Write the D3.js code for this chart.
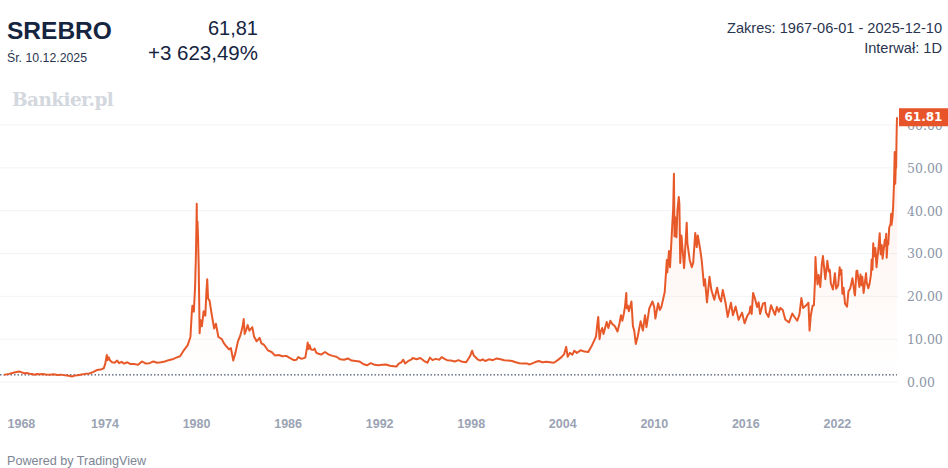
<!DOCTYPE html>
<html>
<head>
<meta charset="utf-8">
<script src="https://cdn.jsdelivr.net/npm/d3@7"></script>
<style>
  body { margin: 0; background: #fff; }
  svg { display: block; font-family: "Liberation Sans", Arial, sans-serif; }
</style>
</head>
<body>
<script>
// 1967 - 1979
const prices1967 = [
  ["1967-06-01", 1.66], ["1967-08-01", 1.78], ["1967-10-01", 1.9], ["1967-12-01", 2.05],
  ["1968-02-01", 2.2], ["1968-04-01", 2.35], ["1968-06-01", 2.45], ["1968-08-01", 2.25],
  ["1968-10-01", 2.05], ["1968-12-01", 2.1], ["1969-02-01", 1.95], ["1969-04-01", 1.85],
  ["1969-06-01", 1.7], ["1969-08-01", 1.85], ["1969-10-01", 1.8], ["1969-12-01", 1.85],
  ["1970-03-01", 1.75], ["1970-06-01", 1.7], ["1970-09-01", 1.8], ["1970-12-01", 1.65],
  ["1971-03-01", 1.72], ["1971-06-01", 1.55], ["1971-09-01", 1.45], ["1971-11-15", 1.3],
  ["1972-01-15", 1.5], ["1972-04-01", 1.6], ["1972-07-01", 1.75], ["1972-10-01", 1.9],
  ["1973-01-01", 2.0], ["1973-04-01", 2.3], ["1973-07-01", 2.8], ["1973-10-01", 2.9],
  ["1973-12-15", 3.2], ["1974-01-20", 4.3], ["1974-02-10", 5.5], ["1974-02-26", 6.3],
  ["1974-03-15", 5.1], ["1974-04-10", 5.8], ["1974-05-15", 5.0], ["1974-07-01", 4.6],
  ["1974-09-01", 4.5], ["1974-11-01", 5.0], ["1974-12-15", 4.4], ["1975-02-15", 4.7],
  ["1975-04-15", 4.3], ["1975-07-01", 4.6], ["1975-09-15", 4.2], ["1975-12-15", 4.2],
  ["1976-03-15", 4.0], ["1976-06-15", 4.8], ["1976-09-15", 4.3], ["1976-12-15", 4.4],
  ["1977-03-15", 4.8], ["1977-06-15", 4.5], ["1977-09-15", 4.6], ["1977-12-15", 4.8],
  ["1978-03-15", 5.1], ["1978-06-15", 5.3], ["1978-09-15", 5.7], ["1978-12-15", 6.0],
  ["1979-03-15", 7.4], ["1979-06-15", 8.6], ["1979-08-20", 10.5], ["1979-09-20", 16.0],
  ["1979-10-05", 17.8], ["1979-11-10", 16.4]
];

// 1980 - 1991
const prices1980 = [
  ["1979-12-10", 22.5], ["1979-12-28", 29.0], ["1980-01-10", 36.0], ["1980-01-18", 41.6],
  ["1980-01-25", 33.0], ["1980-02-05", 37.5], ["1980-02-20", 33.0], ["1980-03-05", 27.0],
  ["1980-03-27", 11.4], ["1980-04-15", 14.5], ["1980-05-20", 13.0], ["1980-07-01", 16.5],
  ["1980-08-10", 15.5], ["1980-09-05", 21.0], ["1980-09-25", 24.0], ["1980-10-15", 19.5],
  ["1980-11-20", 19.0], ["1981-01-10", 15.8], ["1981-03-10", 12.5], ["1981-04-20", 13.6],
  ["1981-06-20", 10.5], ["1981-09-10", 10.0], ["1981-11-01", 9.0], ["1981-12-20", 8.4],
  ["1982-03-01", 7.6], ["1982-04-15", 7.9], ["1982-06-10", 5.0], ["1982-08-01", 6.8],
  ["1982-10-01", 9.5], ["1982-12-01", 11.0], ["1983-01-20", 13.0], ["1983-02-15", 14.7],
  ["1983-03-10", 11.2], ["1983-04-20", 12.3], ["1983-05-20", 13.3], ["1983-07-01", 12.0],
  ["1983-09-10", 12.8], ["1983-10-20", 10.6], ["1983-12-20", 9.5], ["1984-03-01", 10.3],
  ["1984-04-15", 9.0], ["1984-06-15", 8.7], ["1984-09-15", 7.4], ["1984-12-15", 7.0],
  ["1985-03-01", 6.2], ["1985-06-01", 6.3], ["1985-09-01", 6.0], ["1985-12-01", 6.1],
  ["1986-03-01", 5.6], ["1986-06-01", 5.1], ["1986-08-01", 5.2], ["1986-09-15", 5.8],
  ["1986-12-01", 5.4], ["1987-03-01", 5.7], ["1987-04-10", 8.0], ["1987-04-27", 9.2],
  ["1987-05-20", 7.7], ["1987-06-10", 8.6], ["1987-07-15", 7.6], ["1987-09-10", 7.5],
  ["1987-10-10", 7.8], ["1987-11-20", 6.8], ["1988-01-15", 6.6], ["1988-03-15", 6.4],
  ["1988-06-15", 7.0], ["1988-09-15", 6.4], ["1988-12-15", 6.1], ["1989-03-15", 5.9],
  ["1989-06-15", 5.3], ["1989-09-15", 5.2], ["1989-12-15", 5.5], ["1990-03-15", 5.0],
  ["1990-06-15", 4.9], ["1990-09-15", 4.8], ["1990-12-15", 4.2], ["1991-03-15", 3.9],
  ["1991-06-15", 4.4], ["1991-09-15", 4.0], ["1991-12-15", 3.9]
];

// 1992 - 2005
const prices1992 = [
  ["1992-03-15", 4.0], ["1992-06-15", 4.1], ["1992-09-15", 3.8], ["1992-12-15", 3.7],
  ["1993-02-20", 3.6], ["1993-04-15", 4.3], ["1993-06-15", 4.6], ["1993-08-01", 5.2],
  ["1993-09-15", 4.3], ["1993-12-15", 5.0], ["1994-02-15", 5.3], ["1994-03-15", 5.6],
  ["1994-06-15", 5.3], ["1994-09-15", 5.6], ["1994-12-15", 4.9], ["1995-03-01", 4.5],
  ["1995-05-01", 5.7], ["1995-07-01", 5.1], ["1995-09-15", 5.4], ["1995-12-15", 5.2],
  ["1996-02-05", 5.8], ["1996-04-15", 5.4], ["1996-06-15", 5.1], ["1996-09-15", 5.0],
  ["1996-12-15", 4.8], ["1997-03-15", 5.1], ["1997-06-15", 4.7], ["1997-09-15", 4.6],
  ["1997-12-15", 6.0], ["1998-02-05", 7.3], ["1998-03-15", 6.2], ["1998-06-15", 5.3],
  ["1998-08-15", 5.0], ["1998-10-15", 5.3], ["1998-12-15", 4.9], ["1999-03-15", 5.3],
  ["1999-06-15", 5.1], ["1999-09-15", 5.5], ["1999-12-15", 5.3], ["2000-03-15", 5.1],
  ["2000-06-15", 5.0], ["2000-09-15", 4.9], ["2000-12-15", 4.6], ["2001-03-15", 4.4],
  ["2001-06-15", 4.3], ["2001-09-15", 4.3], ["2001-11-15", 4.1], ["2002-03-15", 4.6],
  ["2002-06-15", 4.9], ["2002-09-15", 4.6], ["2002-12-15", 4.7], ["2003-03-15", 4.6],
  ["2003-06-15", 4.5], ["2003-09-15", 5.1], ["2003-12-15", 5.8], ["2004-02-15", 6.5],
  ["2004-04-05", 8.2], ["2004-05-10", 5.9], ["2004-07-01", 6.8], ["2004-09-01", 6.4],
  ["2004-10-15", 7.3], ["2004-12-15", 6.8], ["2005-03-15", 7.4], ["2005-06-15", 7.1],
  ["2005-09-15", 7.0], ["2005-12-15", 8.6]
];

// 2006 - 2015
const prices2006 = [
  ["2006-02-01", 9.6], ["2006-03-20", 10.6], ["2006-04-20", 13.5], ["2006-05-12", 15.2],
  ["2006-06-13", 10.0], ["2006-07-10", 11.8], ["2006-08-15", 12.6], ["2006-09-15", 11.2],
  ["2006-10-15", 12.3], ["2006-12-01", 14.0], ["2007-01-10", 12.6], ["2007-02-25", 14.3],
  ["2007-04-10", 13.6], ["2007-06-15", 13.0], ["2007-08-16", 11.8], ["2007-10-01", 13.6],
  ["2007-11-07", 15.6], ["2007-12-10", 14.3], ["2008-01-15", 16.0], ["2008-02-10", 17.5],
  ["2008-03-14", 20.8], ["2008-03-25", 17.2], ["2008-04-20", 17.8], ["2008-05-15", 16.5],
  ["2008-07-15", 18.8], ["2008-08-20", 13.0], ["2008-09-20", 12.0], ["2008-10-27", 8.9],
  ["2008-12-10", 10.5], ["2009-02-20", 14.2], ["2009-04-15", 12.0], ["2009-06-05", 15.6],
  ["2009-07-10", 12.8], ["2009-09-15", 17.2], ["2009-11-30", 18.8], ["2010-01-10", 17.6],
  ["2010-02-08", 14.8], ["2010-04-15", 18.4], ["2010-05-25", 16.8], ["2010-07-01", 17.5],
  ["2010-09-20", 21.0], ["2010-11-09", 28.5], ["2010-11-20", 25.6], ["2010-12-31", 30.6],
  ["2011-01-25", 26.8], ["2011-03-10", 35.0], ["2011-04-10", 40.5], ["2011-04-28", 48.6],
  ["2011-05-12", 34.0], ["2011-05-25", 38.5], ["2011-06-28", 33.8], ["2011-07-20", 40.0],
  ["2011-08-22", 43.2], ["2011-09-06", 41.5], ["2011-09-26", 27.8], ["2011-10-25", 34.2],
  ["2011-12-28", 26.6], ["2012-02-28", 37.2], ["2012-03-15", 32.5], ["2012-05-10", 28.5],
  ["2012-06-28", 26.8], ["2012-08-01", 27.8], ["2012-09-20", 34.8], ["2012-10-25", 31.5],
  ["2012-11-20", 34.2], ["2013-01-15", 31.0], ["2013-02-20", 28.5], ["2013-04-16", 22.5],
  ["2013-05-10", 24.0], ["2013-06-27", 18.6], ["2013-08-27", 24.6], ["2013-10-10", 21.5],
  ["2013-12-20", 19.2], ["2014-02-24", 22.0], ["2014-04-20", 19.5], ["2014-05-30", 18.8],
  ["2014-07-10", 21.5], ["2014-09-15", 18.5], ["2014-11-05", 15.2], ["2015-01-22", 18.5],
  ["2015-03-10", 15.6], ["2015-05-15", 17.6], ["2015-07-24", 14.5], ["2015-10-15", 16.2],
  ["2015-12-14", 13.7]
];

// 2016 - 2025
const prices2016 = [
  ["2016-02-15", 15.4], ["2016-04-10", 16.2], ["2016-05-01", 17.6], ["2016-06-01", 15.9],
  ["2016-07-05", 20.8], ["2016-08-15", 19.6], ["2016-10-10", 17.5], ["2016-11-15", 18.6],
  ["2016-12-20", 15.9], ["2017-02-25", 18.3], ["2017-04-15", 18.5], ["2017-05-10", 16.2],
  ["2017-07-10", 15.2], ["2017-09-08", 17.9], ["2017-10-15", 17.0], ["2017-12-12", 15.7],
  ["2018-01-25", 17.5], ["2018-03-15", 16.4], ["2018-04-19", 17.3], ["2018-06-15", 16.8],
  ["2018-08-15", 14.6], ["2018-11-13", 13.9], ["2019-01-30", 16.0], ["2019-03-15", 15.3],
  ["2019-05-28", 14.3], ["2019-07-20", 15.8], ["2019-09-04", 19.6], ["2019-10-15", 17.3],
  ["2019-12-31", 17.9], ["2020-02-20", 18.5], ["2020-03-18", 12.0], ["2020-04-15", 15.4],
  ["2020-05-30", 17.8], ["2020-06-30", 17.9], ["2020-07-25", 23.5], ["2020-08-07", 29.2],
  ["2020-08-20", 26.5], ["2020-09-25", 22.8], ["2020-10-20", 25.0], ["2020-11-30", 22.2],
  ["2021-01-05", 27.5], ["2021-02-01", 29.4], ["2021-03-30", 24.0], ["2021-05-18", 28.3],
  ["2021-06-20", 25.8], ["2021-07-15", 26.2], ["2021-08-10", 23.0], ["2021-09-29", 21.6],
  ["2021-11-15", 25.4], ["2021-12-15", 21.8], ["2022-02-01", 22.6], ["2022-03-08", 26.8],
  ["2022-03-25", 25.1], ["2022-04-18", 26.2], ["2022-05-13", 20.6], ["2022-06-10", 22.0],
  ["2022-07-15", 18.3], ["2022-09-01", 17.6], ["2022-10-05", 21.2], ["2022-11-15", 21.8],
  ["2023-01-10", 24.2], ["2023-02-28", 20.6], ["2023-03-10", 20.2], ["2023-04-14", 25.9],
  ["2023-05-04", 26.0], ["2023-06-23", 22.2], ["2023-07-20", 25.1], ["2023-08-15", 22.6],
  ["2023-09-01", 24.6], ["2023-10-03", 20.8], ["2023-11-30", 25.4], ["2023-12-15", 23.3],
  ["2024-01-22", 21.9], ["2024-02-20", 22.8], ["2024-03-28", 25.2], ["2024-04-12", 28.6],
  ["2024-05-02", 26.2], ["2024-05-20", 32.4], ["2024-06-10", 29.3], ["2024-07-10", 31.3],
  ["2024-08-07", 26.8], ["2024-08-30", 29.2], ["2024-09-20", 31.0], ["2024-10-22", 34.7],
  ["2024-11-14", 29.8], ["2024-12-10", 32.0], ["2024-12-30", 28.8], ["2025-01-30", 31.3],
  ["2025-02-20", 33.2], ["2025-03-05", 31.8], ["2025-03-27", 34.6], ["2025-04-08", 29.0],
  ["2025-04-30", 32.9], ["2025-05-15", 32.1], ["2025-06-06", 36.0], ["2025-07-10", 37.0],
  ["2025-07-23", 39.3], ["2025-08-01", 36.7], ["2025-08-25", 38.6], ["2025-09-10", 41.2],
  ["2025-09-30", 46.5], ["2025-10-16", 53.7], ["2025-10-28", 46.3], ["2025-11-10", 50.5],
  ["2025-11-20", 50.0], ["2025-11-28", 56.4], ["2025-12-02", 58.5], ["2025-12-10", 61.81]
];

const yTicks = [0, 10, 20, 30, 40, 50, 60];
const xTickYears = ["1968", "1974", "1980", "1986", "1992", "1998", "2004", "2010", "2016", "2022"];
const lastPrice = 61.81, firstPrice = 1.66;

// 尺寸
const W = 948, H = 468;
const lineColor = "#e8592a";

let parseDate = d3.timeParse("%Y-%m-%d");
let data = [].concat(prices1967, prices1980, prices1992, prices2006, prices2016)
  .map(d => ({ date: parseDate(d[0]), value: d[1] }));

let svg = d3.select("body").append("svg")
  .attr("width", W).attr("height", H);

let x = d3.scaleTime()
  .domain([parseDate("1967-06-01"), parseDate("2025-12-10")])
  .range([4, 897]);
let y = d3.scaleLinear()
  .domain([0, 60])
  .range([382, 125]);

// 漸層
let grad = svg.append("defs").append("linearGradient")
  .attr("id", "areaGrad").attr("x1", 0).attr("y1", 0).attr("x2", 0).attr("y2", 1);
grad.append("stop").attr("offset", "0%").attr("stop-color", lineColor).attr("stop-opacity", 0.10);
grad.append("stop").attr("offset", "100%").attr("stop-color", lineColor).attr("stop-opacity", 0.0);

// 格線
svg.append("g")
  .selectAll("line")
  .data(yTicks)
  .join("line")
  .attr("x1", 0).attr("x2", 898)
  .attr("y1", d => y(d)).attr("y2", d => y(d))
  .attr("stroke", "#f2f3f5").attr("stroke-width", 1);

// 面積
svg.append("path")
  .datum(data)
  .attr("fill", "url(#areaGrad)")
  .attr("d", d3.area().x(d => x(d.date)).y0(y(0)).y1(d => y(d.value)));

// 起始價格虛線
svg.append("line")
  .attr("x1", 0).attr("x2", x(data[data.length - 1].date))
  .attr("y1", y(firstPrice)).attr("y2", y(firstPrice))
  .attr("stroke", "#1e2a4a").attr("stroke-width", 1)
  .attr("stroke-dasharray", "1.5,2");

// 折線
svg.append("path")
  .datum(data)
  .attr("fill", "none")
  .attr("stroke", lineColor)
  .attr("stroke-width", 2)
  .attr("stroke-linejoin", "round")
  .attr("d", d3.line().x(d => x(d.date)).y(d => y(d.value)));

// 右側 Y 軸 (60.00 被價格標籤蓋住一半)
let yAxis = d3.axisRight(y)
  .tickValues(yTicks)
  .tickFormat(d3.format(".2f"))
  .tickSize(0).tickPadding(0);
let yAxisG = svg.append("g")
  .attr("transform", "translate(907, 0)")
  .call(yAxis);
yAxisG.select(".domain").remove();
yAxisG.selectAll("text")
  .attr("fill", "#8c96a8")
  .style("font-size", "12.5px")
  .style("font-family", "'DejaVu Serif', serif")
  .attr("dy", "0.35em");

// 下方 X 軸
let xAxis = d3.axisBottom(x)
  .tickValues(xTickYears.map(s => parseDate(s + "-01-01")))
  .tickFormat(d3.timeFormat("%Y"))
  .tickSize(0).tickPadding(0);
let xAxisG = svg.append("g")
  .attr("transform", "translate(0, 419)")
  .call(xAxis);
xAxisG.select(".domain").remove();
xAxisG.selectAll("text")
  .attr("fill", "#9aa3b3")
  .style("font-size", "12.5px")
  .style("font-weight", "bold")
  .attr("dy", "0.71em");
// 第一個標籤不要超出左邊
xAxisG.selectAll(".tick").filter((d, i) => i === 0)
  .select("text").attr("text-anchor", "start").attr("x", 7 - x(parseDate("1968-01-01")));

// 最新價格標籤
svg.append("rect")
  .attr("x", 899).attr("y", y(lastPrice) - 9)
  .attr("width", 49).attr("height", 18)
  .attr("fill", "#e8542a");
svg.append("text")
  .attr("x", 923.5).attr("y", y(lastPrice))
  .attr("dy", "0.35em")
  .attr("text-anchor", "middle")
  .attr("fill", "#fff")
  .style("font-size", "12px")
  .style("font-weight", "bold")
  .style("font-family", "'DejaVu Sans', sans-serif")
  .text("61.81");

// 標題
const navy = "#15243f";
svg.append("text").attr("x", 7).attr("y", 39)
  .attr("fill", navy).style("font-size", "24.5px").style("font-weight", "bold")
  .text("SREBRO");
svg.append("text").attr("x", 7).attr("y", 62)
  .attr("fill", "#2a3550").style("font-size", "12.3px")
  .text("Śr. 10.12.2025");
svg.append("text").attr("x", 258).attr("y", 35).attr("text-anchor", "end")
  .attr("fill", navy).style("font-size", "20px")
  .text("61,81");
svg.append("text").attr("x", 258).attr("y", 60).attr("text-anchor", "end")
  .attr("fill", navy).style("font-size", "20.5px")
  .text("+3 623,49%");
svg.append("text").attr("x", 942).attr("y", 33).attr("text-anchor", "end")
  .attr("fill", "#2a3550").style("font-size", "14.6px")
  .text("Zakres: 1967-06-01 - 2025-12-10");
svg.append("text").attr("x", 942).attr("y", 53).attr("text-anchor", "end")
  .attr("fill", "#2a3550").style("font-size", "14.6px")
  .text("Interwał: 1D");

// 浮水印
svg.append("text").attr("x", 12).attr("y", 106)
  .attr("fill", "#d3d7de").style("font-size", "18.5px").style("font-weight", "bold")
  .style("font-family", "'DejaVu Serif', serif").style("letter-spacing", "-0.6px")
  .text("Bankier.pl");

svg.append("text").attr("x", 7).attr("y", 465)
  .attr("fill", "#7d8594").style("font-size", "12.6px")
  .text("Powered by TradingView");
</script>
</body>
</html>
